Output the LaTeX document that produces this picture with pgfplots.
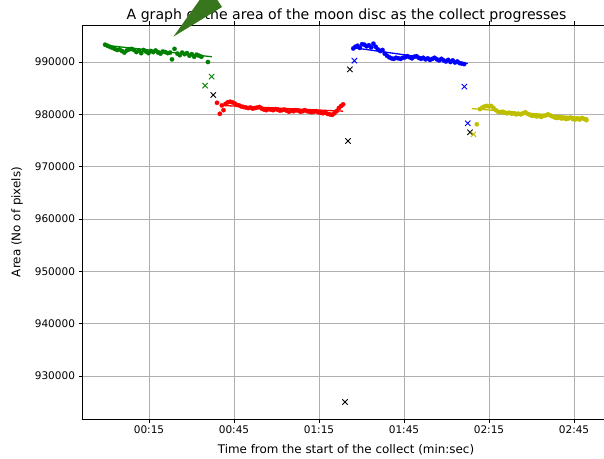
\documentclass[border=0pt]{standalone}
\usepackage{fontspec}
\setmainfont{DejaVu Sans}
\usepackage{pgfplots}
\pgfplotsset{compat=1.18}

\definecolor{mgreen}{rgb}{0,0.5,0}
\definecolor{myellow}{rgb}{0.75,0.75,0}
\definecolor{arrowgreen}{RGB}{56,118,29}
\definecolor{gridgray}{RGB}{176,176,176}

\begin{document}
\begin{tikzpicture}
\path[use as bounding box] (0,0) rectangle (604pt,458pt);
\node[anchor=base, inner sep=0pt, font=\fontsize{14.1}{16}\selectfont]
  at (346.5pt,438.5pt) {A graph of the area of the moon disc as the collect progresses};
\begin{axis}[
    at={(82pt,39pt)}, anchor=south west,
    scale only axis,
    width=528pt, height=394pt,
    xmin=-8.65, xmax=177.7,
    ymin=921780, ymax=997070,
    clip=false,
    axis line style={line width=0.8pt},
    grid=major,
    major grid style={gridgray, line width=0.8pt},
    tick align=outside,
    major tick length=3.5pt,
    tick style={black, line width=0.8pt},
    xtick={15,45,75,105,135,165},
    xticklabels={00:15,00:45,01:15,01:45,02:15,02:45},
    ytick={930000,940000,...,990000},
    scaled y ticks=false,
    yticklabel style={/pgf/number format/.cd, fixed, set thousands separator={}},
    /pgf/number format/assume math mode=true,
    ticklabel style={font=\fontsize{10.5}{12}\selectfont},
    label style={font=\fontsize{11.9}{14}\selectfont},
    xlabel={Time from the start of the collect (min:sec)},
    ylabel={Area (No of pixels)},
    xlabel style={at={(axis description cs:0.5,-0.079)}, anchor=center},
    ylabel style={at={(axis description cs:-0.123,0.5)}, anchor=center},
    every axis plot/.append style={line width=1.3pt},
    dots/.style={only marks, mark=*, mark size=2.2pt, mark options={line width=0.2pt, draw=#1, fill=#1}, #1},
    crosses/.style={only marks, mark=x, mark size=3.8pt, #1, mark options={line width=0.9pt}},
  ]
% green
\addplot[dots=mgreen] coordinates {
(-0.5,993300) (0.35,993100) (1.2,992900) (2.05,992700) (2.9,992500) (3.75,992300)
(4.6,992400) (5.45,992100) (6.3,991800) (7.15,992200) (8.0,992400) (8.85,992500)
(9.7,992300) (10.55,991900) (11.4,992200) (12.25,991700) (13.1,992300) (13.95,992000)
(14.8,991700) (15.65,992100) (16.5,991900) (17.35,992200) (18.2,991800) (19.05,991600)
(19.9,992000) (20.75,991900) (21.6,991700) (22.45,991800) (23.1,990500) (24.0,992500)
(25.0,991600) (25.85,991300) (26.7,991800) (27.55,991500) (28.4,991700) (29.25,991200)
(30.1,991500) (30.95,991000) (31.8,991400) (32.65,991200) (33.5,991000) (35.8,990000)
};
\addplot[mgreen, no marks] coordinates {(-0.5,993200) (37.2,991000)};
\addplot[crosses=mgreen] coordinates {(34.8,985470) (37.1,987190)};
\addplot[crosses=black] coordinates {(37.7,983690)};
% red
\addplot[dots=red] coordinates {
(39.0,982200) (40.0,980100) (40.7,981700) (41.3,980800) (42.0,982000) (42.8,982300)
(43.6,982400) (44.4,982300) (45.2,982100) (46.0,981800) (46.8,981700) (47.6,981500)
(48.4,981400) (49.2,981300) (50.0,981200) (50.8,981300) (51.6,981100) (52.4,981200)
(53.2,981300) (54.0,981400) (54.8,981100) (55.6,980900) (56.4,980800) (57.2,981000)
(58.0,980900) (58.8,980800) (59.6,981000) (60.4,980900) (61.2,980700) (62.0,980800)
(62.8,980900) (63.6,980700) (64.4,980500) (65.2,980700) (66.0,980600) (66.8,980800)
(67.6,980700) (68.4,980500) (69.2,980600) (70.0,980800) (70.8,980600) (71.6,980500)
(72.4,980400) (73.2,980500) (74.0,980600) (74.8,980400) (75.6,980300) (76.4,980200)
(77.2,980300) (78.0,980100) (78.8,980000) (79.6,979900) (80.4,980200) (81.2,980600)
(82.0,981200) (82.8,981600) (83.5,981900)
};
\addplot[red, no marks] coordinates {(40.5,981700) (83.5,980600)};
\addplot[crosses=black] coordinates {(85.2,974900) (84.2,925030) (85.9,988600)};
% blue
\addplot[dots=blue] coordinates {
(87.1,992600) (87.8,992900) (88.6,993100) (89.4,992700) (90.2,993400) (91.0,993300)
(91.8,993000) (92.6,993200) (93.4,992800) (94.2,993500) (95.0,992900) (95.8,992400)
(96.6,992100) (97.4,992300) (98.2,991600) (99.0,991200) (99.8,990900) (100.6,990700)
(101.4,990600) (102.2,990800) (103.0,990700) (103.8,990600) (104.6,990800) (105.4,990900)
(106.2,991100) (107.0,990900) (107.8,990700) (108.6,991000) (109.4,991100) (110.2,990800)
(111.0,990600) (111.8,990800) (112.6,990500) (113.4,990700) (114.2,990400) (115.0,990600)
(115.8,990800) (116.6,990500) (117.4,990300) (118.2,990600) (119.0,990300) (119.8,990100)
(120.6,990400) (121.4,990000) (122.2,990300) (123.0,989900) (123.8,990100) (124.6,989800)
(125.4,989700) (126.2,989600)
};
\addplot[blue, no marks] coordinates {(87.5,992700) (127.5,989700)};
\addplot[crosses=blue] coordinates {(87.5,990250) (126.3,985280) (127.5,978290)};
\addplot[crosses=black] coordinates {(128.3,976570)};
% yellow
\addplot[crosses=myellow] coordinates {(129.5,976180)};
\addplot[dots=myellow] coordinates {
(130.7,978100)
(131.8,981000) (132.6,981300) (133.4,981500) (134.2,981600) (135.0,981500) (135.8,981600)
(136.6,981200) (137.4,980800) (138.2,980500) (139.0,980400) (139.8,980500) (140.6,980300)
(141.4,980200) (142.2,980300) (143.0,980100) (143.8,980200) (144.6,980000) (145.4,980100)
(146.2,980000) (147.0,980200) (147.8,980400) (148.6,980100) (149.4,979900) (150.2,979700)
(151.0,979800) (151.8,979600) (152.6,979700) (153.4,979500) (154.2,979700) (155.0,979800)
(155.8,980000) (156.6,979800) (157.4,979600) (158.2,979400) (159.0,979300) (159.8,979400)
(160.6,979200) (161.4,979300) (162.2,979100) (163.0,979200) (163.8,979400) (164.6,979100)
(165.4,979000) (166.2,979200) (167.0,979000) (167.8,979300) (168.6,979100) (169.4,978900)
};
\addplot[myellow, no marks] coordinates {(128.9,981100) (169.9,979300)};
% annotation arrow head
\fill[arrowgreen] (axis cs:23.6,994835) -- (axis cs:33.36,1002230) -- (axis cs:38.65,1002230)
  -- (axis cs:40.77,1000510) -- cycle;
\end{axis}
\end{tikzpicture}
\end{document}
